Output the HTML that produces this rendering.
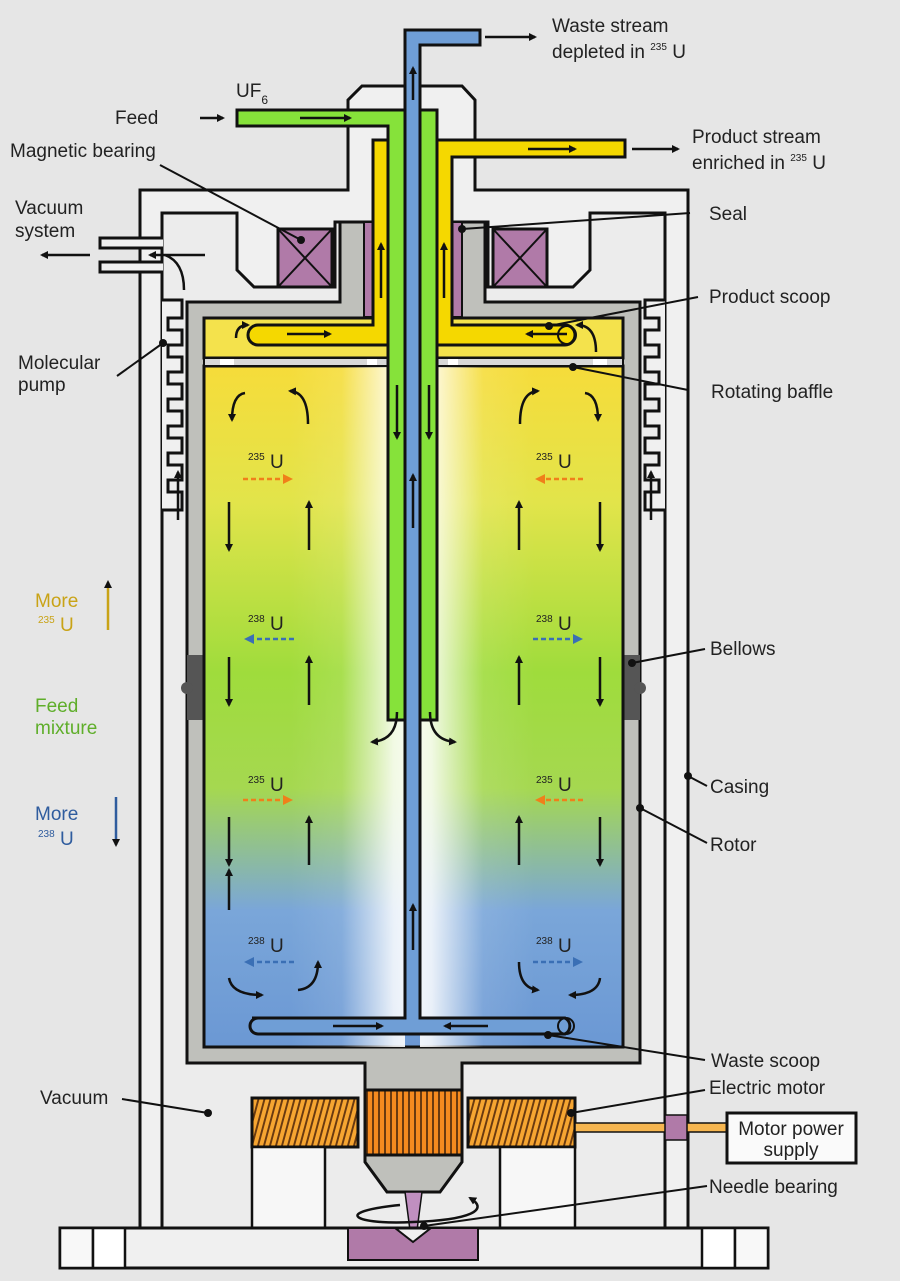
<!DOCTYPE html>
<html><head><meta charset="utf-8"><style>
html,body{margin:0;padding:0;background:#e6e6e6;}
svg{display:block;}
text{font-family:"Liberation Sans",sans-serif;font-size:19px;fill:#222;}
</style></head><body>
<svg width="900" height="1281" viewBox="0 0 900 1281" xmlns="http://www.w3.org/2000/svg">
<defs>
<marker id="a" markerWidth="8" markerHeight="8" refX="6" refY="4" orient="auto" markerUnits="userSpaceOnUse"><path d="M0,0 L8,4 L0,8 Z" fill="#111"/></marker>
<marker id="ao" markerWidth="10" markerHeight="10" refX="7" refY="5" orient="auto" markerUnits="userSpaceOnUse"><path d="M0,0 L10,5 L0,10 Z" fill="#f07f1a"/></marker>
<marker id="ab" markerWidth="10" markerHeight="10" refX="7" refY="5" orient="auto" markerUnits="userSpaceOnUse"><path d="M0,0 L10,5 L0,10 Z" fill="#3a6fb5"/></marker>
<linearGradient id="gv" x1="0" y1="0" x2="0" y2="1">
<stop offset="0" stop-color="#f6dc3a"/>
<stop offset="0.2" stop-color="#e2e44a"/>
<stop offset="0.45" stop-color="#9fdc3c"/>
<stop offset="0.62" stop-color="#a5d850"/>
<stop offset="0.8" stop-color="#7aa6d9"/>
<stop offset="1" stop-color="#6b98d4"/>
</linearGradient>
<linearGradient id="hl" x1="0" y1="0" x2="1" y2="0">
<stop offset="0" stop-color="#fff" stop-opacity="0"/>
<stop offset="0.45" stop-color="#fff" stop-opacity="0.1"/>
<stop offset="0.9" stop-color="#fff" stop-opacity="0.85"/>
<stop offset="1" stop-color="#fff" stop-opacity="0.9"/>
</linearGradient>
<linearGradient id="hr" x1="1" y1="0" x2="0" y2="0">
<stop offset="0" stop-color="#fff" stop-opacity="0"/>
<stop offset="0.45" stop-color="#fff" stop-opacity="0.1"/>
<stop offset="0.9" stop-color="#fff" stop-opacity="0.85"/>
<stop offset="1" stop-color="#fff" stop-opacity="0.9"/>
</linearGradient>
<pattern id="st" width="6" height="10" patternUnits="userSpaceOnUse" patternTransform="skewX(-15)"><rect width="6" height="10" fill="#f6a531"/><rect width="2" height="10" fill="#6a3a10"/></pattern>
<pattern id="sv" width="6" height="10" patternUnits="userSpaceOnUse"><rect width="6" height="10" fill="#f58a1f"/><rect width="2" height="10" fill="#6a3a10"/></pattern>
</defs>

<!-- casing -->
<path d="M140,190 H348 V100 L362,86 H462 L475,100 V190 H688 V1228 H140 Z" fill="#f0f0f0" stroke="#111" stroke-width="3"/>
<path d="M162,213 H237 V270 L254,287 H335 V222 H488 V287 H573 L590,270 V213 H665 V1228 H162 Z" fill="#ececec" stroke="#111" stroke-width="3"/>
<!-- molecular pump teeth -->
<g fill="#f0f0f0" stroke="#111" stroke-width="3">
<path d="M162,300 H182 V318 H168 V330 H182 V345 H168 V357 H182 V372 H168 V384 H182 V399 H168 V411 H182 V426 H168 V438 H182 V453 H168 V465 H182 V480 H168 V492 H182 V510 H162"/>
<path d="M665,300 H645 V318 H659 V330 H645 V345 H659 V357 H645 V372 H659 V384 H645 V399 H659 V411 H645 V426 H659 V438 H645 V453 H659 V465 H645 V480 H659 V492 H645 V510 H665"/>
</g>
<!-- vacuum port -->
<path d="M163,238 H100 V248 H163" fill="#f0f0f0" stroke="#111" stroke-width="3"/>
<path d="M163,262 H100 V272 H163" fill="#f0f0f0" stroke="#111" stroke-width="3"/>
<path d="M205,255 H150" stroke="#111" stroke-width="2.5" marker-end="url(#a)"/>
<path d="M184,290 Q184,262 165,255" stroke="#111" stroke-width="2.5" fill="none"/>
<path d="M90,255 H42" stroke="#111" stroke-width="2.5" marker-end="url(#a)"/>
<path d="M178,520 V472" stroke="#111" stroke-width="2.5" marker-end="url(#a)"/>
<path d="M651,520 V472" stroke="#111" stroke-width="2.5" marker-end="url(#a)"/>

<!-- magnetic bearings -->
<g fill="#b07aa8" stroke="#111" stroke-width="3">
<rect x="278" y="229" width="54" height="58"/><rect x="493" y="229" width="54" height="58"/>
</g>
<path d="M278,229 L332,287 M332,229 L278,287 M493,229 L547,287 M547,229 L493,287" stroke="#111" stroke-width="2"/>

<!-- rotor -->
<path d="M187,302 H340 V222 H485 V302 H640 V1063 H462 V1090 H365 V1063 H187 Z" fill="#bfc0bb" stroke="#111" stroke-width="3"/>
<rect x="364" y="222" width="12" height="95" fill="#b07aa8" stroke="#111" stroke-width="2"/>
<rect x="450" y="222" width="12" height="95" fill="#b07aa8" stroke="#111" stroke-width="2"/>
<rect x="187" y="655" width="17" height="65" fill="#555"/>
<rect x="623" y="655" width="17" height="65" fill="#555"/>
<circle cx="187" cy="688" r="6" fill="#555"/><circle cx="640" cy="688" r="6" fill="#555"/>
<!-- chamber -->
<rect x="204" y="366" width="419" height="681" fill="url(#gv)" stroke="#111" stroke-width="3"/>
<rect x="290" y="366" width="115" height="681" fill="url(#hl)"/>
<rect x="420" y="366" width="115" height="681" fill="url(#hr)"/>
<rect x="204" y="318" width="419" height="40" fill="#f4e24c" stroke="#111" stroke-width="3"/>
<rect x="204" y="358" width="419" height="8" fill="#d8d8d8" stroke="#111" stroke-width="2"/>
<rect x="220" y="359" width="14" height="6" fill="#fff"/><rect x="593" y="359" width="14" height="6" fill="#fff"/>
<rect x="367" y="359" width="10" height="6" fill="#fff"/><rect x="448" y="359" width="10" height="6" fill="#fff"/>

<!-- yellow tubes -->
<path d="M373,140 H388 V345 H258 A10,10 0 0 1 258,325 H373 Z" fill="#f5d800" stroke="#111" stroke-width="3"/>
<path d="M452,157 V325 H565 A10,10 0 0 1 565,345 H437 V140 H625 V157 Z" fill="#f5d800" stroke="#111" stroke-width="3"/>
<circle cx="567" cy="335" r="9" fill="none" stroke="#111" stroke-width="2"/>
<!-- green tubes -->
<path d="M237,110 H405 V720 H388 V126 H237 Z" fill="#86e23a" stroke="#111" stroke-width="3"/>
<path d="M420,110 H437 V720 H420 Z" fill="#86e23a" stroke="#111" stroke-width="3"/>
<!-- blue -->
<path d="M252,1018 H405 V30 H480 V45 H420 V1018 H565 A9,9 0 0 1 565,1034 H258 A8,8 0 0 1 258,1018 Z" fill="#6f9ed6" stroke="#111" stroke-width="3"/>
<circle cx="566" cy="1026" r="8" fill="none" stroke="#111" stroke-width="2"/>

<!-- bottom motor -->
<rect x="365" y="1090" width="97" height="65" fill="url(#sv)" stroke="#111" stroke-width="3"/>
<path d="M365,1155 H462 V1162 L440,1192 H387 L365,1162 Z" fill="#bfc0bb" stroke="#111" stroke-width="3"/>
<path d="M405,1192 H422 L416,1238 H411 Z" fill="#c08fc0" stroke="#111" stroke-width="1.5"/>
<rect x="252" y="1098" width="106" height="49" fill="url(#st)" stroke="#111" stroke-width="3"/>
<rect x="468" y="1098" width="107" height="49" fill="url(#st)" stroke="#111" stroke-width="3"/>
<rect x="252" y="1147" width="73" height="82" fill="#f7f7f7" stroke="#111" stroke-width="2.5"/>
<rect x="500" y="1147" width="75" height="82" fill="#f7f7f7" stroke="#111" stroke-width="2.5"/>
<rect x="60" y="1228" width="708" height="40" fill="#f0f0f0" stroke="#111" stroke-width="3"/>
<rect x="60" y="1228" width="33" height="40" fill="#f8f8f8" stroke="#111" stroke-width="2.5"/>
<rect x="93" y="1228" width="32" height="40" fill="#fff" stroke="#111" stroke-width="2.5"/>
<rect x="702" y="1228" width="33" height="40" fill="#fff" stroke="#111" stroke-width="2.5"/>
<rect x="735" y="1228" width="33" height="40" fill="#f8f8f8" stroke="#111" stroke-width="2.5"/>
<path d="M348,1228 H395 L413,1242 L431,1228 H478 V1260 H348 Z" fill="#b07aa8" stroke="#111" stroke-width="2"/>
<path d="M400,1205 C330,1212 355,1225 413,1222 C470,1220 490,1210 470,1198" fill="none" stroke="#111" stroke-width="2.5" marker-end="url(#a)"/>
<rect x="575" y="1123" width="152" height="9" fill="#f6b650" stroke="#111" stroke-width="1.5"/>
<rect x="665" y="1115" width="22" height="25" fill="#b07aa8" stroke="#111" stroke-width="1.5"/>
<rect x="727" y="1113" width="129" height="50" fill="#fafafa" stroke="#111" stroke-width="3"/>

<!-- flow arrows -->
<g stroke="#111" stroke-width="2.5" fill="none" marker-end="url(#a)">
<path d="M485,37 H535"/><path d="M413,100 V68"/>
<path d="M300,118 H350"/><path d="M528,149 H575"/>
<path d="M200,118 H223"/><path d="M632,149 H678"/>
<path d="M381,298 V244"/><path d="M444,298 V244"/>
<path d="M287,334 H330"/><path d="M567,334 H527"/>
<path d="M236,338 Q236,325 248,325"/><path d="M596,352 Q596,325 577,325"/>
<path d="M397,385 V438"/><path d="M429,385 V438"/>
<path d="M413,528 V475"/><path d="M413,950 V905"/>
<path d="M397,712 Q397,740 372,742"/><path d="M430,712 Q430,740 455,742"/>
<path d="M245,393 Q232,395 232,420"/><path d="M308,424 Q308,392 290,391"/>
<path d="M520,424 Q520,392 538,391"/><path d="M585,393 Q598,395 598,420"/>
<path d="M229,502 V550"/><path d="M309,550 V502"/><path d="M519,550 V502"/><path d="M600,502 V550"/>
<path d="M229,657 V705"/><path d="M309,705 V657"/><path d="M519,705 V657"/><path d="M600,657 V705"/>
<path d="M229,817 V865"/><path d="M309,865 V817"/><path d="M519,865 V817"/><path d="M600,817 V865"/>
<path d="M229,910 V870"/>
<path d="M229,978 Q232,995 262,995"/><path d="M298,990 Q318,988 318,962"/>
<path d="M519,962 Q519,988 538,990"/><path d="M600,978 Q598,995 570,995"/>
<path d="M333,1026 H382"/><path d="M488,1026 H445"/>
</g>
<path d="M108,630 V582" stroke="#c9a316" stroke-width="2.5" marker-end="url(#a)"/>
<path d="M116,797 V845" stroke="#2f5c9e" stroke-width="2.5" marker-end="url(#a)"/>
<g stroke-width="2.5" stroke-dasharray="5,3">
<path d="M243,479 H290" stroke="#f07f1a" marker-end="url(#ao)"/>
<path d="M583,479 H538" stroke="#f07f1a" marker-end="url(#ao)"/>
<path d="M243,800 H290" stroke="#f07f1a" marker-end="url(#ao)"/>
<path d="M583,800 H538" stroke="#f07f1a" marker-end="url(#ao)"/>
<path d="M294,639 H247" stroke="#3a6fb5" marker-end="url(#ab)"/>
<path d="M533,639 H580" stroke="#3a6fb5" marker-end="url(#ab)"/>
<path d="M294,962 H247" stroke="#3a6fb5" marker-end="url(#ab)"/>
<path d="M533,962 H580" stroke="#3a6fb5" marker-end="url(#ab)"/>
</g>

<!-- leader lines -->
<g stroke="#111" stroke-width="2">
<path d="M160,165 L301,240"/><path d="M462,229 L690,213"/>
<path d="M549,326 L698,297"/><path d="M573,367 L688,390"/>
<path d="M117,376 L163,343"/><path d="M632,663 L705,649"/>
<path d="M688,776 L707,786"/><path d="M640,808 L707,843"/>
<path d="M548,1035 L705,1060"/><path d="M571,1113 L705,1090"/>
<path d="M424,1226 L707,1186"/><path d="M122,1099 L208,1113"/>
</g>
<g fill="#111">
<circle cx="301" cy="240" r="4"/><circle cx="462" cy="229" r="4"/><circle cx="549" cy="326" r="4"/>
<circle cx="573" cy="367" r="4"/><circle cx="163" cy="343" r="4"/><circle cx="632" cy="663" r="4"/>
<circle cx="688" cy="776" r="4"/><circle cx="640" cy="808" r="4"/><circle cx="548" cy="1035" r="4"/>
<circle cx="571" cy="1113" r="4"/><circle cx="424" cy="1226" r="4"/><circle cx="208" cy="1113" r="4"/>
</g>

<!-- labels -->
<text x="552" y="32">Waste stream</text>
<text x="552" y="58">depleted in <tspan font-size="10" dy="-8">235</tspan><tspan dy="8"> U</tspan></text>
<text x="236" y="97">UF<tspan font-size="12" dy="7">6</tspan></text>
<text x="115" y="124">Feed</text>
<text x="10" y="157">Magnetic bearing</text>
<text x="692" y="143">Product stream</text>
<text x="692" y="169">enriched in <tspan font-size="10" dy="-8">235</tspan><tspan dy="8"> U</tspan></text>
<text x="15" y="214">Vacuum</text>
<text x="15" y="237">system</text>
<text x="709" y="220">Seal</text>
<text x="709" y="303">Product scoop</text>
<text x="711" y="398">Rotating baffle</text>
<text x="18" y="369">Molecular</text>
<text x="18" y="391">pump</text>
<text x="710" y="655">Bellows</text>
<text x="710" y="793">Casing</text>
<text x="710" y="851">Rotor</text>
<text x="711" y="1067">Waste scoop</text>
<text x="709" y="1094">Electric motor</text>
<text x="709" y="1193">Needle bearing</text>
<text x="40" y="1104">Vacuum</text>
<text x="791" y="1135" text-anchor="middle">Motor power</text>
<text x="791" y="1156" text-anchor="middle">supply</text>
<text x="35" y="607" style="fill:#c9a316">More</text>
<text x="38" y="631" style="fill:#c9a316"><tspan font-size="10" dy="-8">235</tspan><tspan dy="8"> U</tspan></text>
<text x="35" y="712" style="fill:#5fae2a">Feed</text>
<text x="35" y="734" style="fill:#5fae2a">mixture</text>
<text x="35" y="820" style="fill:#2f5c9e">More</text>
<text x="38" y="845" style="fill:#2f5c9e"><tspan font-size="10" dy="-8">238</tspan><tspan dy="8"> U</tspan></text>
<g>
<text x="248" y="468"><tspan font-size="10" dy="-8">235</tspan><tspan dy="8"> U</tspan></text>
<text x="536" y="468"><tspan font-size="10" dy="-8">235</tspan><tspan dy="8"> U</tspan></text>
<text x="248" y="630"><tspan font-size="10" dy="-8">238</tspan><tspan dy="8"> U</tspan></text>
<text x="536" y="630"><tspan font-size="10" dy="-8">238</tspan><tspan dy="8"> U</tspan></text>
<text x="248" y="791"><tspan font-size="10" dy="-8">235</tspan><tspan dy="8"> U</tspan></text>
<text x="536" y="791"><tspan font-size="10" dy="-8">235</tspan><tspan dy="8"> U</tspan></text>
<text x="248" y="952"><tspan font-size="10" dy="-8">238</tspan><tspan dy="8"> U</tspan></text>
<text x="536" y="952"><tspan font-size="10" dy="-8">238</tspan><tspan dy="8"> U</tspan></text>
</g>
</svg>
</body></html>
